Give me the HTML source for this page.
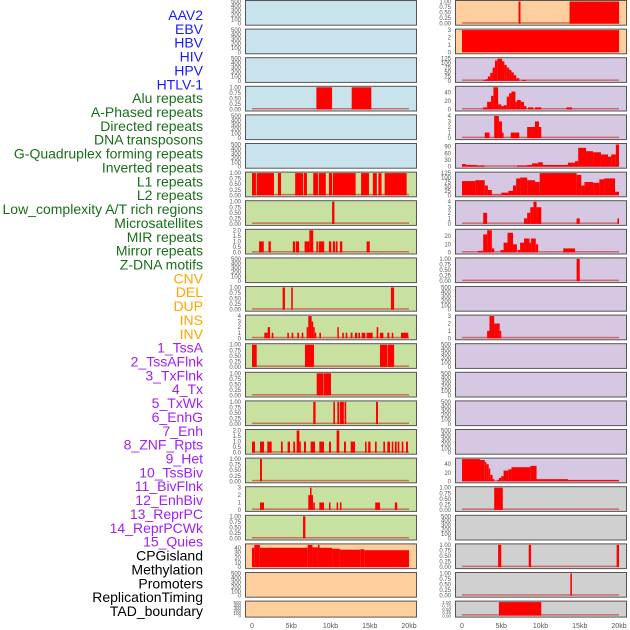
<!DOCTYPE html>
<html><head><meta charset="utf-8"><style>
html,body{margin:0;padding:0;background:#fff;width:630px;height:630px;overflow:hidden}
svg{display:block}
</style></head><body>
<svg id="chart" width="630" height="630" xmlns="http://www.w3.org/2000/svg" font-family="Liberation Sans, sans-serif"></svg>
<script>
// ---- data ----
const trackLabels=["AAV2","EBV","HBV","HIV","HPV","HTLV-1","Alu repeats","A-Phased repeats","Directed repeats","DNA transposons","G-Quadruplex forming repeats","Inverted repeats","L1 repeats","L2 repeats","Low_complexity A/T rich regions","Microsatellites","MIR repeats","Mirror repeats","Z-DNA motifs","CNV","DEL","DUP","INS","INV","1_TssA","2_TssAFlnk","3_TxFlnk","4_Tx","5_TxWk","6_EnhG","7_Enh","8_ZNF_Rpts","9_Het","10_TssBiv","11_BivFlnk","12_EnhBiv","13_ReprPC","14_ReprPCWk","15_Quies","CPGisland","Methylation","Promoters","ReplicationTiming","TAD_boundary"];
const labelGroups=[6,13,5,15,5];
const xTicks=[0,5,10,15,20];
const xTickLabels=["0","5kb","10kb","15kb","20kb"];
const leftBg=["b","b","b","b","b","b","g","g","g","g","g","g","g","g","g","g","g","g","g","p","p","p"];
const rightBg=["p","p","v","v","v","v","v","v","v","v","v","v","v","v","v","v","v","r","r","r","r","r"];
const leftScale=[500,500,500,1,500,500,1,1,2,500,1,4,1,1,1,2,1,3,1,46,500,500];
const rightScale=[1,3,125,52,4,100,125,4,27,1,500,3,500,500,500,500,52,1,500,1,1,1];
const L4=[[8.2,10.2,1],[12.7,15.2,1]];
const L7=[[0,0.5,1],[0.6,2.8,1],[3.3,3.7,1],[5.5,6.5,1],[6.6,7.0,1],[7.8,8.4,1],[8.5,9.4,1],[9.8,10.2,1],[10.3,13.2,1],[13.9,14.9,1],[15.4,15.9,1],[16.1,16.5,1],[16.9,19.7,1]];
const L8=[[10.2,10.5,1]];
const L9=[[0.9,1.5,1],[2.1,2.4,1],[5.2,5.5,1],[5.6,6.0,1],[6.7,7.0,1],[7.0,7.3,1],[7.3,7.8,2],[8.2,8.4,1],[8.5,9.2,1],[9.8,10.1,1],[10.3,10.6,1],[10.7,10.9,1],[11.2,11.5,1],[14.6,15.0,1]];
const L11=[[3.9,4.2,1],[5.0,5.2,1],[17.7,18.1,1]];
const L12=[[1.57,2.0,1],[2.0,2.3,2],[2.51,2.72,1],[4.5,4.7,1],[5.05,5.26,1],[5.77,5.99,1],[6.33,6.54,1],[6.96,7.17,2],[7.17,7.6,4],[7.6,7.8,3],[7.8,8.0,2],[8.0,8.16,1],[8.58,8.79,1],[10.87,11.04,2],[11.5,11.7,1],[11.93,12.14,1],[12.57,12.8,1],[13.12,13.42,1],[13.55,13.76,1],[13.97,14.44,1],[14.6,15.37,1],[15.88,16.09,2],[16.3,16.73,1],[17.24,17.49,1],[17.8,18.0,1],[18.98,19.91,1]];
const L13=[[0,0.6,1],[6.75,7.9,1],[16.3,17.24,1],[17.3,18.1,1]];
const L14=[[8.24,9.1,1],[9.15,10.06,1]];
const L15=[[7.8,8.1,1],[10.36,10.57,1],[10.87,11.1,1],[11.2,11.7,1],[11.8,12.0,1],[15.8,16.05,1]];
const L16=[[0,0.38,1],[1.02,1.53,1],[1.95,2.51,1],[3.69,3.91,1],[4.54,4.84,1],[5.26,5.48,1],[5.69,6.03,2],[6.03,6.2,1],[6.62,6.88,1],[7.47,8.03,1],[8.58,9.17,1],[9.81,10.06,1],[10.78,11.12,2],[11.72,11.97,1],[12.57,13.12,1],[14.4,14.6,1],[14.8,15.1,1],[15.67,15.88,1],[16.73,16.94,1],[17.24,17.58,1],[17.8,18.0,1],[18.2,18.43,1],[18.56,18.77,1],[19.07,19.28,1],[19.62,19.87,1]];
const L17=[[1.02,1.27,1]];
const L18=[[1.02,1.53,1],[7.17,7.39,2],[7.39,7.5,3],[7.5,7.77,2],[7.8,8.0,1],[8.58,9.17,1],[9.81,10.0,1],[10.78,10.95,1],[11.2,11.4,1],[15.7,16.3,1],[18.2,18.5,1]];
const L19=[[6.5,6.8,1]];
const L20=[[0,0.3,40],[0.3,1.0,46],[1.0,7.1,40],[7.1,7.7,46],[7.7,8.4,41],[8.4,8.6,46],[8.6,10.2,40],[10.2,11.2,38],[11.2,13.8,36],[13.8,14.3,37],[14.3,20,35]];
const R1=[[7.2,7.45,1],[13.7,20,1]];
const R2=[[0,20,3]];
const R3=[[2.7,3.0,5],[3.0,3.3,10],[3.3,3.6,25],[3.6,3.9,45],[3.9,4.2,75],[4.2,4.5,115],[4.5,5.1,125],[5.1,5.4,110],[5.4,5.7,90],[5.7,6.0,75],[6.0,6.3,62],[6.3,6.6,48],[6.6,6.9,32],[6.9,7.3,15],[7.6,8.2,5]];
const R4=[[2.7,3.2,5],[3.2,3.7,18],[3.7,4.0,32],[4.0,4.6,52],[4.6,5.0,12],[5.0,5.3,8],[5.3,5.7,10],[5.7,6.0,30],[6.0,6.3,38],[6.3,6.8,42],[6.8,7.0,18],[7.0,7.5,22],[7.5,7.9,18],[7.9,8.2,8],[8.4,9.1,5],[9.3,10.1,5],[13.3,14.0,5]];
const R5=[[2.9,3.5,1],[4.1,4.7,4],[4.7,5.1,3],[5.1,5.3,1],[6.2,7.3,1],[8.3,9.3,2],[9.3,9.8,3],[9.8,10.1,2]];
const R6=[[0,0.5,12],[0.5,1.9,8],[1.9,2.9,5],[7,8.3,5],[8.3,8.9,8],[8.9,9.7,15],[9.7,10.3,20],[10.3,13.5,8],[13.5,14.4,18],[14.4,14.8,25],[14.8,15.8,85],[15.8,16.7,70],[16.7,17.7,65],[17.7,18.6,55],[18.6,19.0,45],[19.0,19.6,55],[19.6,20,100]];
const R7=[[0,1.7,80],[1.7,2.9,85],[2.9,3.3,55],[3.3,3.8,30],[3.8,5.0,3],[5.0,5.9,15],[5.9,6.5,25],[6.5,6.9,55],[6.9,7.4,95],[7.4,8.3,100],[8.3,9.3,85],[9.3,9.9,75],[9.9,14.6,125],[14.6,15.2,115],[15.2,15.6,55],[15.6,16.7,75],[16.7,17.5,70],[17.5,18.1,90],[18.1,19.5,95],[19.5,20,20]];
const R8=[[2.7,3.2,2],[7.9,8.3,1],[8.3,8.7,2],[8.7,9.1,3],[9.1,9.5,4],[9.5,10.1,3],[14.6,15.0,1],[19.8,20,1]];
const R9=[[2.0,2.7,2],[2.7,3.2,22],[3.2,3.8,27],[3.8,4.1,5],[4.9,5.3,3],[5.3,5.8,12],[5.8,6.5,24],[6.5,7.0,10],[7.1,7.4,3],[7.4,7.9,12],[7.9,8.6,17],[8.6,8.8,12],[8.8,9.4,17],[9.4,9.7,10],[12.9,14.4,5]];
const R10=[[14.6,15.0,1]];
const R12=[[3.2,3.5,1],[3.5,4.1,3],[4.1,4.8,2],[4.8,5.0,1]];
const R17=[[0,2.3,52],[2.3,2.9,50],[2.9,3.1,45],[3.1,3.4,40],[3.4,3.6,30],[3.6,3.9,15],[3.9,4.1,5],[4.5,4.7,3],[4.7,5.0,8],[5.0,5.3,12],[5.3,5.9,25],[5.9,6.3,28],[6.3,8.7,33],[8.7,9.5,36],[9.5,13.5,5],[13.5,20,3]];
const R18=[[4.1,5.2,1]];
const R20=[[4.6,5.0,1],[8.5,8.8,1],[19.7,20.0,1]];
const R21=[[13.8,14.0,1]];
const R22=[[4.7,10.1,1]];
const leftData=[[],[],[],L4,[],[],L7,L8,L9,[],L11,L12,L13,L14,L15,L16,L17,L18,L19,L20,[],[]];
const rightData=[R1,R2,R3,R4,R5,R6,R7,R8,R9,R10,[],R12,[],[],[],[],R17,R18,[],R20,R21,R22];

// ---- drawing ----
const NS="http://www.w3.org/2000/svg";
const svg=document.getElementById('chart');
const bgColors={b:"#c8e3eb",g:"#c8e0a0",p:"#fecf9c",v:"#d6c7e2",r:"#d0d0d0"};
const groupColors=["#1a1aff","#1a6e1a","#ffa500","#a020f0","#000000"];
function mk(tag,attrs,parent){const e=document.createElementNS(NS,tag);for(const k in attrs)e.setAttribute(k,attrs[k]);(parent||svg).appendChild(e);return e;}
function tickSet(max){
  if(max===500)return [0,100,200,300,400,500];
  if(max===1)return [0,0.25,0.5,0.75,1];
  if(max===2)return [0,0.5,1,1.5,2];
  if(max===3)return [0,1,2,3];
  if(max===4)return [0,1,2,3,4];
  if(max===46)return [0,10,20,30,40];
  if(max===125)return [0,25,50,75,100,125];
  if(max===52)return [0,20,40];
  if(max===100)return [0,30,60,90];
  if(max===27)return [0,10,20];
  return [0,max];
}
function fmt(max,v){
  if(max===1)return v.toFixed(2);
  if(max===2)return v.toFixed(1);
  return String(v);
}
let gi=0,cnt=0;
trackLabels.forEach((t,i)=>{
  while(cnt>=labelGroups[gi]){cnt=0;gi++;}
  cnt++;
  const el=mk('text',{x:203,y:15+i*13.86+5,'text-anchor':'end','font-size':'14',fill:groupColors[gi]});
  
  
  el.textContent=t;
});
function panel(px,i,bg,max,data,side){
  const top=i*28.6, h=(i===21)?16:24.7, w=171;
  const g=mk('g',{});
  
  
  mk('rect',{x:px+0.5,y:top+0.5,width:w,height:h,fill:bgColors[bg],stroke:'#555','stroke-width':1},g);
  const x0=px+7, kbw=7.85;
  const xs=kb=>x0+kb*kbw;
  const bot=top+h-1, ph=h-2.5;
  const ys=v=>bot-v/max*ph;
  tickSet(max).forEach(v=>{
    const t=mk('text',{x:px-4,y:ys(v)+2,'text-anchor':'end','font-size':(i===21?4.5:6),fill:'#555'},g);
    
    
    t.textContent=fmt(max,v);
  });
  if(data.length){
    mk('rect',{x:xs(0),y:bot-1.5,width:xs(20)-xs(0),height:1.5,fill:'#c84040',opacity:0.7},g);
  }
  data.forEach(d=>{
    const b=mk('rect',{x:xs(d[0]),y:ys(d[2]),width:Math.max(1.5,xs(d[1])-xs(d[0])),height:bot-ys(d[2]),fill:'#ff0000'},g);
    
    
  });
  if(i===21){
    xTicks.forEach((k,j)=>{
      const t=mk('text',{x:xs(k),y:628,'text-anchor':'middle','font-size':7,fill:'#555'});
      
      
      t.textContent=xTickLabels[j];
    });
  }
}
for(let i=0;i<22;i++){
  panel(245,i,leftBg[i],leftScale[i],leftData[i],'left');
  panel(455,i,rightBg[i],rightScale[i],rightData[i],'right');
}
</script>
</body></html>
